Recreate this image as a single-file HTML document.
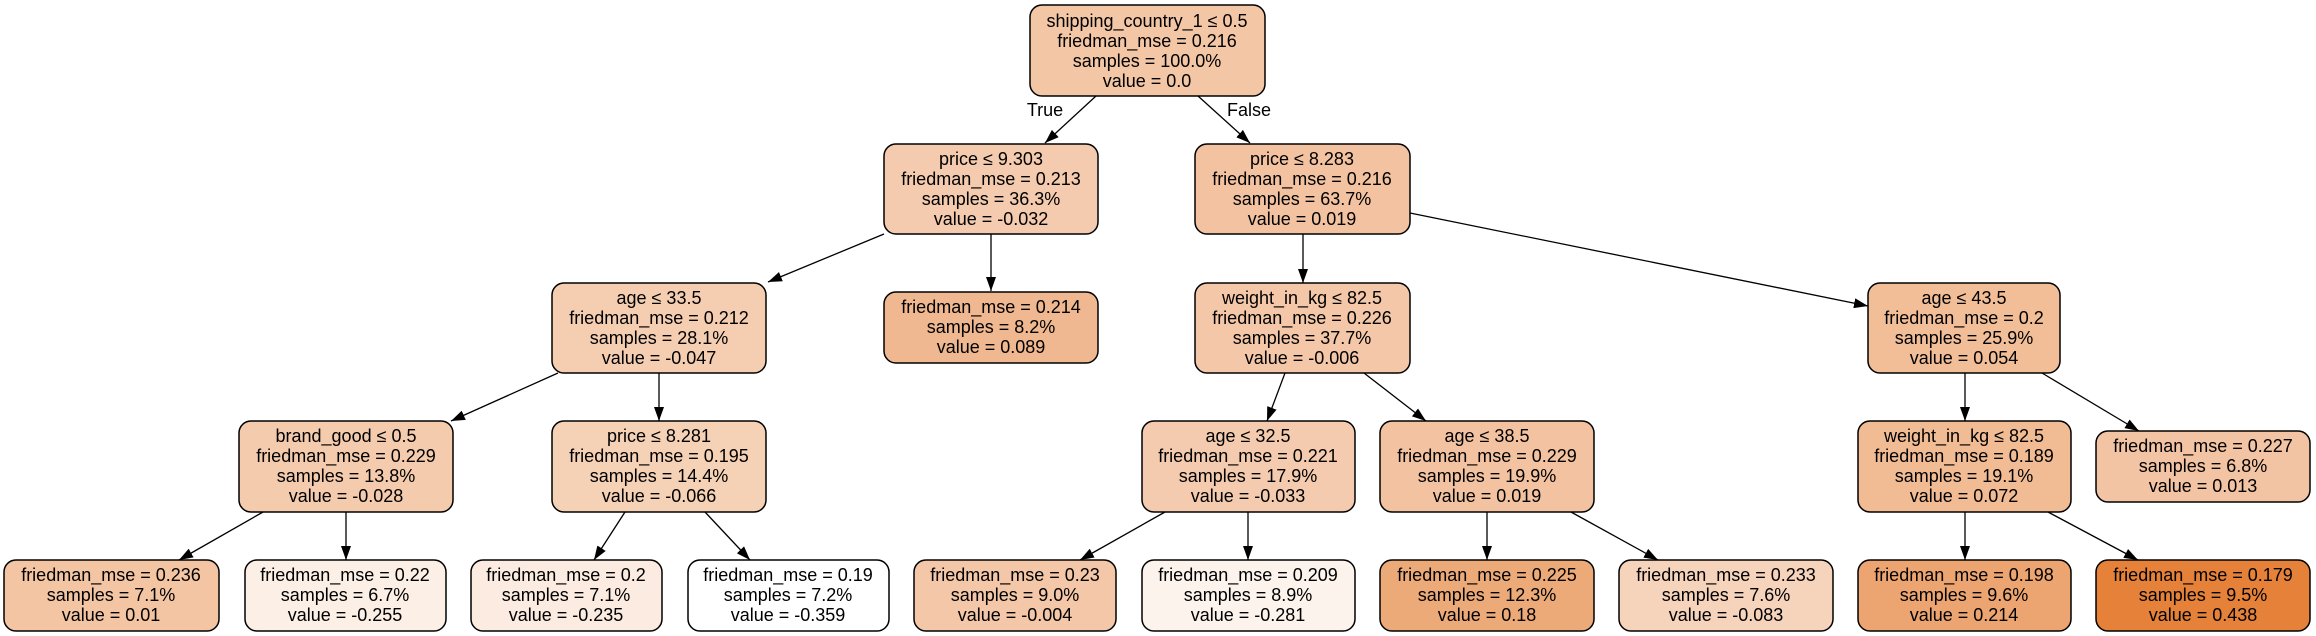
<!DOCTYPE html>
<html><head><meta charset="utf-8"><style>
html,body{margin:0;padding:0;background:#fff;}
svg{display:block;}
text{font-family:"Liberation Sans",Arial,sans-serif;font-size:18px;text-anchor:middle;fill:#000;}
rect{stroke:#000;stroke-width:1.5;}
line{stroke:#000;stroke-width:1.3;}
</style></head><body>
<svg width="2316" height="636" viewBox="0 0 2316 636" xmlns="http://www.w3.org/2000/svg">
<defs><marker id="a" viewBox="0 0 14 10" refX="14" refY="5" markerWidth="14" markerHeight="10" markerUnits="userSpaceOnUse" orient="auto"><path d="M0,0 L14,5 L0,10 z" fill="#000"/></marker></defs>
<g marker-end="url(#a)">
<line x1="1096" y1="96" x2="1045" y2="143"/>
<line x1="1198" y1="96" x2="1250" y2="143"/>
<line x1="884" y1="234" x2="768" y2="282"/>
<line x1="991" y1="234" x2="991" y2="291"/>
<line x1="1303" y1="234" x2="1303" y2="283"/>
<line x1="1410" y1="213" x2="1868" y2="306"/>
<line x1="558" y1="373" x2="451" y2="421"/>
<line x1="659" y1="373" x2="659" y2="421"/>
<line x1="1285" y1="373" x2="1267" y2="421"/>
<line x1="1364" y1="373" x2="1426" y2="421"/>
<line x1="1965" y1="373" x2="1965" y2="421"/>
<line x1="2042" y1="373" x2="2139" y2="431"/>
<line x1="263" y1="512" x2="179" y2="560"/>
<line x1="346" y1="512" x2="346" y2="560"/>
<line x1="625" y1="512" x2="594" y2="560"/>
<line x1="705" y1="512" x2="750" y2="560"/>
<line x1="1165" y1="512" x2="1080" y2="560"/>
<line x1="1248" y1="512" x2="1248" y2="560"/>
<line x1="1487" y1="512" x2="1487" y2="560"/>
<line x1="1571" y1="512" x2="1658" y2="560"/>
<line x1="1965" y1="512" x2="1965" y2="560"/>
<line x1="2048" y1="512" x2="2138" y2="560"/>
</g>
<text x="1045" y="116">True</text>
<text x="1249" y="116">False</text>

<!-- root -->
<rect x="1030" y="5" width="235" height="91" rx="12" fill="rgb(243,198,166)"/>
<text x="1147" y="27">shipping_country_1 ≤ 0.5</text><text x="1147" y="47">friedman_mse = 0.216</text><text x="1147" y="67">samples = 100.0%</text><text x="1147" y="87">value = 0.0</text>

<rect x="884" y="144" width="214" height="90" rx="12" fill="rgb(244,203,174)"/>
<text x="991" y="165">price ≤ 9.303</text><text x="991" y="185">friedman_mse = 0.213</text><text x="991" y="205">samples = 36.3%</text><text x="991" y="225">value = -0.032</text>

<rect x="1195" y="144" width="215" height="90" rx="12" fill="rgb(243,195,161)"/>
<text x="1302" y="165">price ≤ 8.283</text><text x="1302" y="185">friedman_mse = 0.216</text><text x="1302" y="205">samples = 63.7%</text><text x="1302" y="225">value = 0.019</text>

<rect x="552" y="283" width="214" height="90" rx="12" fill="rgb(245,206,178)"/>
<text x="659" y="304">age ≤ 33.5</text><text x="659" y="324">friedman_mse = 0.212</text><text x="659" y="344">samples = 28.1%</text><text x="659" y="364">value = -0.047</text>

<rect x="884" y="292" width="214" height="71" rx="12" fill="rgb(240,184,144)"/>
<text x="991" y="313">friedman_mse = 0.214</text><text x="991" y="333">samples = 8.2%</text><text x="991" y="353">value = 0.089</text>

<rect x="1195" y="283" width="215" height="90" rx="12" fill="rgb(243,199,167)"/>
<text x="1302" y="304">weight_in_kg ≤ 82.5</text><text x="1302" y="324">friedman_mse = 0.226</text><text x="1302" y="344">samples = 37.7%</text><text x="1302" y="364">value = -0.006</text>

<rect x="1868" y="283" width="192" height="90" rx="12" fill="rgb(241,190,152)"/>
<text x="1964" y="304">age ≤ 43.5</text><text x="1964" y="324">friedman_mse = 0.2</text><text x="1964" y="344">samples = 25.9%</text><text x="1964" y="364">value = 0.054</text>

<rect x="239" y="421" width="214" height="91" rx="12" fill="rgb(244,203,173)"/>
<text x="346" y="442">brand_good ≤ 0.5</text><text x="346" y="462">friedman_mse = 0.229</text><text x="346" y="482">samples = 13.8%</text><text x="346" y="502">value = -0.028</text>

<rect x="552" y="421" width="214" height="91" rx="12" fill="rgb(245,209,182)"/>
<text x="659" y="442">price ≤ 8.281</text><text x="659" y="462">friedman_mse = 0.195</text><text x="659" y="482">samples = 14.4%</text><text x="659" y="502">value = -0.066</text>

<rect x="1142" y="421" width="213" height="91" rx="12" fill="rgb(244,203,174)"/>
<text x="1248" y="442">age ≤ 32.5</text><text x="1248" y="462">friedman_mse = 0.221</text><text x="1248" y="482">samples = 17.9%</text><text x="1248" y="502">value = -0.033</text>

<rect x="1380" y="421" width="214" height="91" rx="12" fill="rgb(243,195,161)"/>
<text x="1487" y="442">age ≤ 38.5</text><text x="1487" y="462">friedman_mse = 0.229</text><text x="1487" y="482">samples = 19.9%</text><text x="1487" y="502">value = 0.019</text>

<rect x="1858" y="421" width="213" height="91" rx="12" fill="rgb(241,187,148)"/>
<text x="1964" y="442">weight_in_kg ≤ 82.5</text><text x="1964" y="462">friedman_mse = 0.189</text><text x="1964" y="482">samples = 19.1%</text><text x="1964" y="502">value = 0.072</text>

<rect x="2096" y="431" width="214" height="71" rx="12" fill="rgb(243,196,163)"/>
<text x="2203" y="452">friedman_mse = 0.227</text><text x="2203" y="472">samples = 6.8%</text><text x="2203" y="492">value = 0.013</text>

<!-- leaves -->
<rect x="4" y="560" width="215" height="71" rx="12" fill="rgb(243,197,163)"/>
<text x="111" y="581">friedman_mse = 0.236</text><text x="111" y="601">samples = 7.1%</text><text x="111" y="621">value = 0.01</text>

<rect x="245" y="560" width="201" height="71" rx="12" fill="rgb(252,239,229)"/>
<text x="345" y="581">friedman_mse = 0.22</text><text x="345" y="601">samples = 6.7%</text><text x="345" y="621">value = -0.255</text>

<rect x="471" y="560" width="191" height="71" rx="12" fill="rgb(251,235,224)"/>
<text x="566" y="581">friedman_mse = 0.2</text><text x="566" y="601">samples = 7.1%</text><text x="566" y="621">value = -0.235</text>

<rect x="688" y="560" width="201" height="71" rx="12" fill="#ffffff"/>
<text x="788" y="581">friedman_mse = 0.19</text><text x="788" y="601">samples = 7.2%</text><text x="788" y="621">value = -0.359</text>

<rect x="914" y="560" width="202" height="71" rx="12" fill="rgb(243,199,167)"/>
<text x="1015" y="581">friedman_mse = 0.23</text><text x="1015" y="601">samples = 9.0%</text><text x="1015" y="621">value = -0.004</text>

<rect x="1142" y="560" width="213" height="71" rx="12" fill="rgb(252,243,236)"/>
<text x="1248" y="581">friedman_mse = 0.209</text><text x="1248" y="601">samples = 8.9%</text><text x="1248" y="621">value = -0.281</text>

<rect x="1380" y="560" width="214" height="71" rx="12" fill="rgb(237,170,121)"/>
<text x="1487" y="581">friedman_mse = 0.225</text><text x="1487" y="601">samples = 12.3%</text><text x="1487" y="621">value = 0.18</text>

<rect x="1619" y="560" width="214" height="71" rx="12" fill="rgb(246,211,187)"/>
<text x="1726" y="581">friedman_mse = 0.233</text><text x="1726" y="601">samples = 7.6%</text><text x="1726" y="621">value = -0.083</text>

<rect x="1858" y="560" width="213" height="71" rx="12" fill="rgb(236,164,113)"/>
<text x="1964" y="581">friedman_mse = 0.198</text><text x="1964" y="601">samples = 9.6%</text><text x="1964" y="621">value = 0.214</text>

<rect x="2096" y="560" width="214" height="71" rx="12" fill="rgb(229,129,57)"/>
<text x="2203" y="581">friedman_mse = 0.179</text><text x="2203" y="601">samples = 9.5%</text><text x="2203" y="621">value = 0.438</text>
</svg>
</body></html>
